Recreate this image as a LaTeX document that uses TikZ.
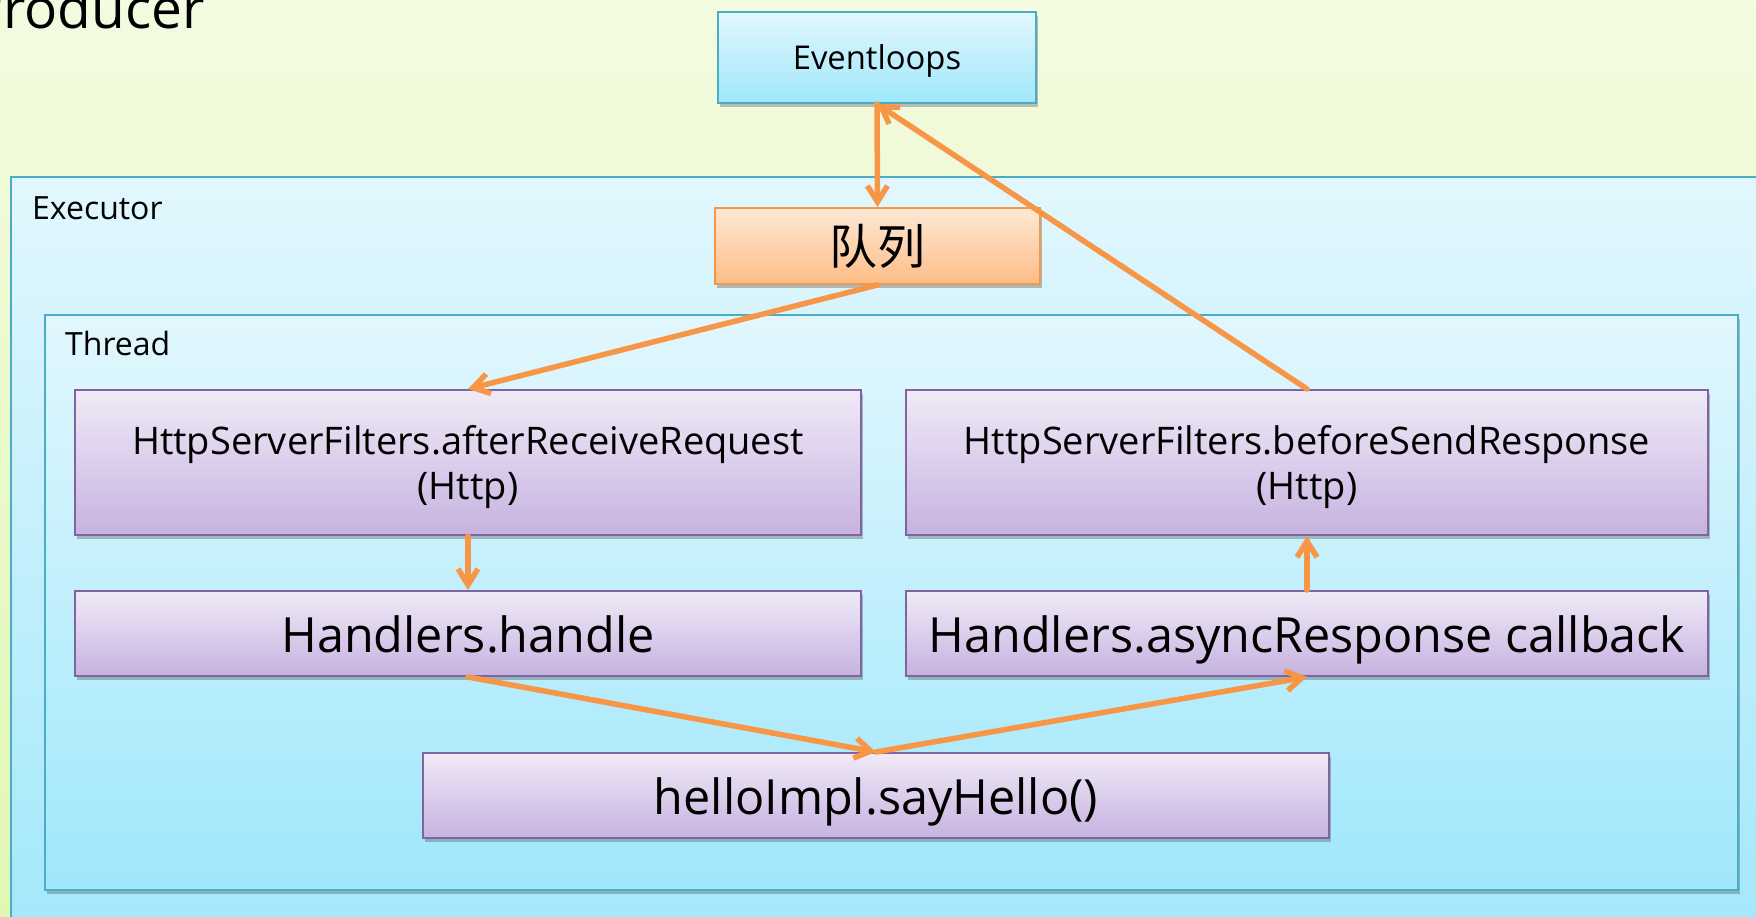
\documentclass[tikz,border=0pt]{standalone}
\usepackage{fontspec}
\setmainfont{Open Sans}
\newfontfamily\cjkfont{Noto Sans CJK SC}
\usetikzlibrary{arrows.meta,shadows}

\definecolor{bgtop}{HTML}{F3FBE0}
\definecolor{bgbot}{HTML}{E0F7B4}
\definecolor{bluetop}{HTML}{E2F7FD}
\definecolor{bluebot}{HTML}{9FE7FB}
\definecolor{blueline}{HTML}{4BACC6}
\definecolor{orgtop}{HTML}{FFE8D6}
\definecolor{orgbot}{HTML}{FCBD86}
\definecolor{orgline}{HTML}{F79646}
\definecolor{purtop}{HTML}{F0EAF7}
\definecolor{purbot}{HTML}{C7B2E0}
\definecolor{purline}{HTML}{8064A2}
\definecolor{flow}{HTML}{F79646}

\tikzset{
  shadowed/.style={drop shadow={opacity=0.35,shadow xshift=2pt,shadow yshift=-4pt,fill=black!70}},
  panel/.style={draw=blueline,line width=2.5pt,top color=bluetop,bottom color=bluebot,shadowed},
  bluebox/.style={rectangle,draw=blueline,line width=2pt,top color=bluetop,bottom color=bluebot,
    shadowed,inner sep=0pt,font=\fontsize{32.8}{38}\selectfont,text height=30pt,text depth=7pt},
  queuebox/.style={rectangle,draw=orgline,line width=2pt,top color=orgtop,bottom color=orgbot,
    shadowed,inner sep=0pt,font=\cjkfont\fontsize{48}{54}\selectfont},
  stagebox/.style={rectangle,draw=purline,line width=2pt,top color=purtop,bottom color=purbot,
    shadowed,inner sep=0pt,align=center},
  midtext/.style={font=\fontsize{38}{45}\selectfont},
  bigtext/.style={font=\fontsize{48.5}{54}\selectfont,text height=48pt,text depth=10pt},
  flowarrow/.style={draw=flow,line width=5.5pt,line cap=round,
    -{Straight Barb[length=16pt,width=20pt,line width=5.5pt]}},
  caption/.style={anchor=base west,inner sep=0pt,font=\fontsize{32}{36}\selectfont}
}

\begin{document}
\begin{tikzpicture}[x=1pt,y=-1pt]
  % canvas
  \useasboundingbox (0,0) rectangle (1756,916);
  \shade[top color=bgtop,bottom color=bgbot] (0,0) rectangle (1756,916);

  % title, partly running off the left edge
  \node[anchor=base east,inner sep=0pt,font=\fontsize{55}{60}\selectfont] (title) at (205,28) {Producer};

  % executor and thread panels
  \path[panel] (11,177) rectangle (1800,980);
  \node[caption] (exec) at (32,219) {Executor};
  \path[panel] (45,315) rectangle (1738,890);
  \node[caption] (thr) at (65,355) {Thread};

  % stages
  \node[bluebox,minimum width=318pt,minimum height=91pt] (el) at (877,57.5) {Eventloops};
  \node[queuebox,minimum width=325pt,minimum height=76pt] (q) at (877.5,246) {队列};
  \node[stagebox,midtext,minimum width=786pt,minimum height=145pt] (ar) at (468,462.5)
    {\rule{0pt}{38pt}HttpServerFilters.afterReceiveRequest\\(Http)};
  \node[stagebox,midtext,minimum width=802pt,minimum height=145pt] (bs) at (1307,462.5)
    {\rule{0pt}{38pt}HttpServerFilters.beforeSendResponse\\(Http)};
  \node[stagebox,bigtext,minimum width=786pt,minimum height=85pt] (hh) at (468,633.5)
    {Handlers.handle};
  \node[stagebox,bigtext,minimum width=802pt,minimum height=85pt] (ac) at (1307,633.5)
    {Handlers.asyncResponse callback};
  \node[stagebox,bigtext,minimum width=906pt,minimum height=85pt] (hi) at (876,795.5)
    {helloImpl.sayHello()};

  % request / response flow
  \draw[flowarrow] (el.south) -- (q.north);
  \draw[flowarrow] (q.south) -- (ar.north);
  \draw[flowarrow] (ar.south) -- (hh.north);
  \draw[flowarrow] (hh.south) -- (hi.north);
  \draw[flowarrow] (hi.north) -- (ac.south);
  \draw[flowarrow] (ac.north) -- (bs.south);
  \draw[flowarrow] (bs.north) -- (el.south);
\end{tikzpicture}
\end{document}
